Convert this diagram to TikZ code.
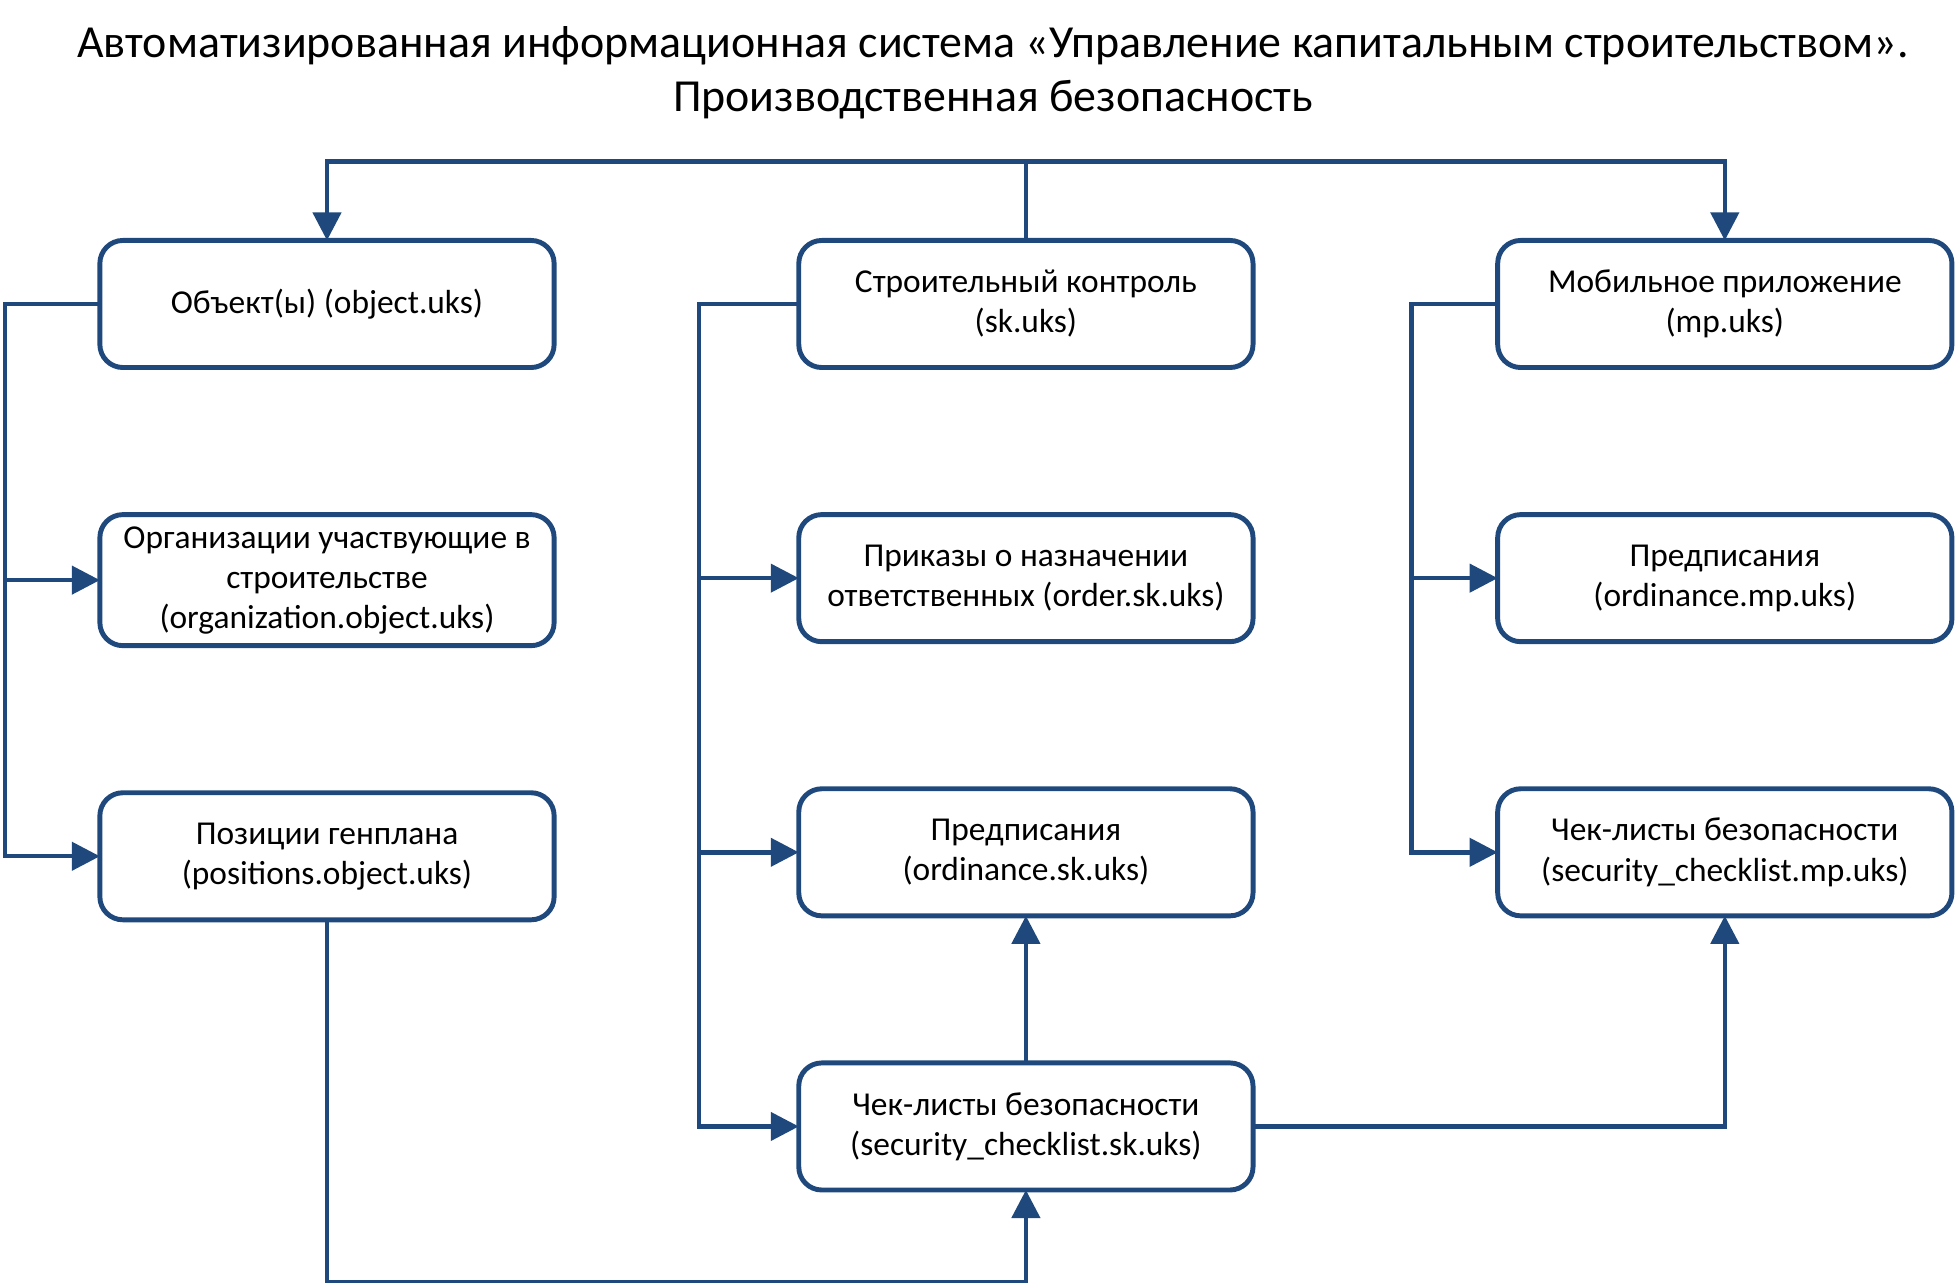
\documentclass[tikz,border=0pt]{standalone}
\usepackage{fontspec}
\setmainfont{Carlito}
\usepackage{xcolor}
\usetikzlibrary{positioning,arrows.meta}
\definecolor{uksblue}{RGB}{31,73,125}

\begin{document}
\begin{tikzpicture}[x=0.01cm,y=0.01cm,
    box/.style={draw=uksblue,line width=1.4pt,rounded corners=0.23cm,fill=white,
      minimum width=4.54cm,minimum height=1.27cm,align=center,outer sep=0pt,
      font=\fontsize{9.5}{11.4}\selectfont},
    link/.style={draw=uksblue,line width=1.25pt},
    arr/.style={link,-{Triangle[width=0.28cm,length=0.28cm]}},
    node distance=1.47cm and 2.445cm]
  \useasboundingbox (0,0) rectangle (1956,-1283);
  % Title
  \node (title) at (993,-73) [align=center,font=\fontsize{13.05}{15.3}\selectfont]
    {Автоматизированная информационная система «Управление капитальным строительством».\\Производственная безопасность};
  % Boxes
  \node[box] (obj) at (327,-304) {Объект(ы) (object.uks)};
  \node[box] (sk) [right=of obj] {Строительный контроль\\(sk.uks)};
  \node[box] (mp) [right=of sk] {Мобильное приложение\\(mp.uks)};
  \node[box] (org) [below=of obj] {Организации участвующие в\\строительстве\\(organization.object.uks)};
  \node[box] (pos) [below=of org] {Позиции генплана\\(positions.object.uks)};
  \node[box] (order) [below=of sk] {Приказы о назначении\\ответственных (order.sk.uks)};
  \node[box] (ordsk) [below=of order] {Предписания\\(ordinance.sk.uks)};
  \node[box] (chksk) [below=of ordsk] {Чек-листы безопасности\\(security\_checklist.sk.uks)};
  \node[box] (ordmp) [below=of mp] {Предписания\\(ordinance.mp.uks)};
  \node[box] (chkmp) [below=of ordmp] {Чек-листы безопасности\\(security\_checklist.mp.uks)};
  % Connectors
  \draw[arr] (sk.north) -- ++(0,79) -| (obj.north);
  \draw[arr] (sk.north) -- ++(0,79) -| (mp.north);
  \draw[arr] (obj.west) -- ++(-95,0) |- (org.west);
  \draw[arr] (obj.west) -- ++(-95,0) |- (pos.west);
  \draw[arr] (sk.west) -- ++(-100,0) |- (order.west);
  \draw[arr] (sk.west) -- ++(-100,0) |- (ordsk.west);
  \draw[arr] (sk.west) -- ++(-100,0) |- (chksk.west);
  \draw[arr] (mp.west) -- ++(-86,0) |- (ordmp.west);
  \draw[arr] (mp.west) -- ++(-86,0) |- (chkmp.west);
  \draw[arr] (pos.south) -- ++(0,-362) -| (chksk.south);
  \draw[arr] (chksk) -- (ordsk);
  \draw[arr] (chksk.east) -| (chkmp.south);
\end{tikzpicture}
\end{document}
